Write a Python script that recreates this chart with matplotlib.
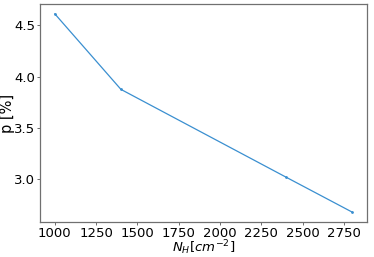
import numpy as np
import matplotlib
matplotlib.use('Agg')
import matplotlib.pyplot as plt

nh = [1000, 1400, 2400, 2800]
pol = [4.61, 3.875, 3.02, 2.68]

fig = plt.figure(figsize=(3.74, 2.57), dpi=100)
ax = fig.add_axes([40/374, 1 - 222/257, (367 - 40)/374, (222 - 4)/257])
ax.plot(nh, pol, color='#3a8fd0', lw=0.9, marker='.', ms=2)

ax.set_xticks([1000, 1250, 1500, 1750, 2000, 2250, 2500, 2750])
ax.set_yticks([3.0, 3.5, 4.0, 4.5])
ax.tick_params(labelsize=9.5, length=2, width=0.6, color='#555555', pad=1.5)
for s in ax.spines.values():
    s.set_color('#707070')
    s.set_linewidth(0.9)

ax.set_xlabel(r'$N_H [cm^{-2}]$', fontsize=9.5, labelpad=-1)
ax.set_ylabel('p [%]', fontsize=10.5, labelpad=-1)

fig.savefig('out.png', dpi=100)
